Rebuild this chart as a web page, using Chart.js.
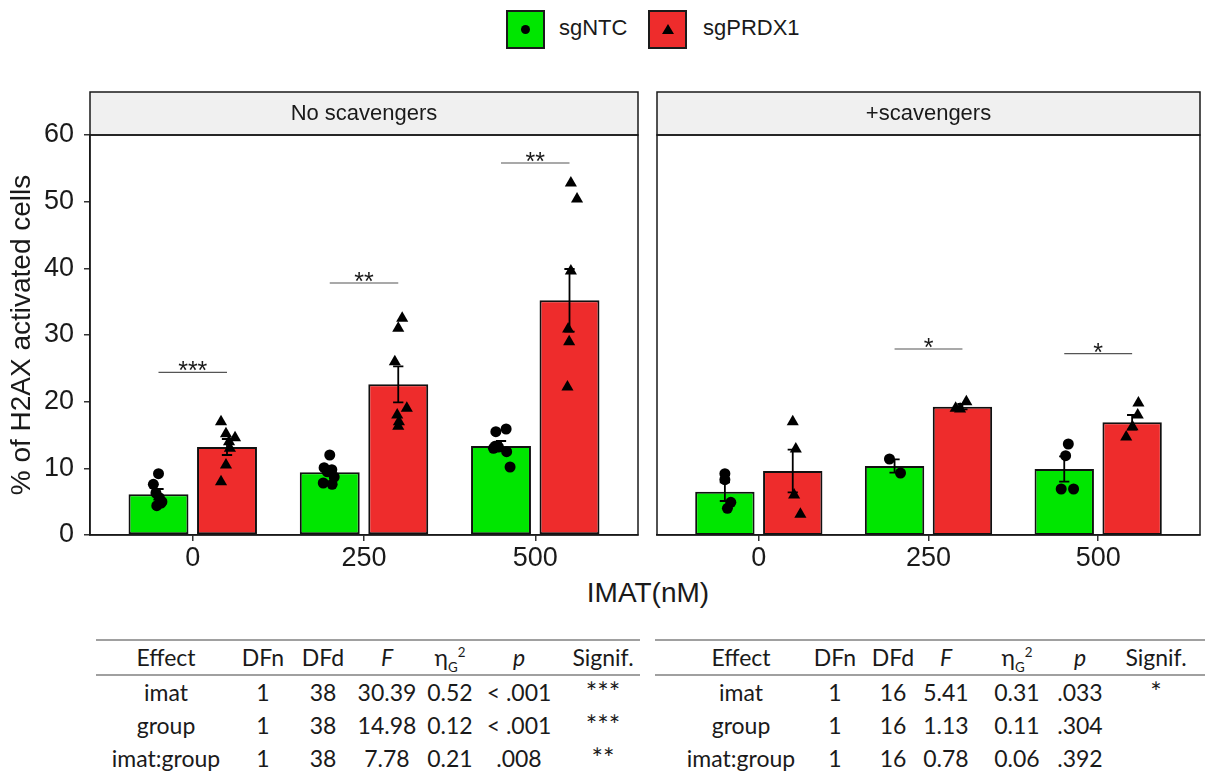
<!DOCTYPE html>
<html>
<head>
<meta charset="utf-8">
<title>H2AX activated cells</title>
<script src="https://cdn.jsdelivr.net/npm/chart.js@4.4.1/dist/chart.umd.min.js"></script>
<style>
  body { margin: 0; background: #fff; }
  #wrap { position: relative; width: 1207px; height: 774px; overflow: hidden;
          font-family: "Liberation Sans", Arial, sans-serif; color: #1a1a1a; }
  canvas { position: absolute; }
  .lgbox { position: absolute; width: 35px; height: 35px; border: 2px solid #1a1a1a; }
  .lgtext { position: absolute; top: 15px; font-size: 22px; line-height: 26px; }
  .dot { position: absolute; left: 13px; top: 13px; width: 9px; height: 9px; border-radius: 50%; background: #000; }
  .tri { position: absolute; left: 12px; top: 12px; width: 0; height: 0;
         border-left: 6px solid transparent; border-right: 6px solid transparent; border-bottom: 10px solid #000; }
  #xtitle { position: absolute; left: 548px; width: 200px; top: 577px; text-align: center; font-size: 28px; line-height: 32px; }
  .cell { position: absolute; width: 140px; text-align: center; font-family: Lato, "Open Sans", sans-serif;
          font-size: 23px; line-height: 30px; white-space: nowrap; }
  .cell.star { font-size: 27px; }
  .rule { position: absolute; height: 2px; background: #a0a0a0; }
  sub, sup { font-size: 58%; line-height: 0; }
</style>
</head>
<body>
<div id="wrap">
  <div class="lgbox" style="left:506px; top:10px; background:#00e600;"><div class="dot"></div></div>
  <div class="lgtext" style="left:559px;">sgNTC</div>
  <div class="lgbox" style="left:648px; top:10px; background:#ee2c2c;"><div class="tri"></div></div>
  <div class="lgtext" style="left:703px;">sgPRDX1</div>

  <canvas id="chartNo" width="645" height="480" style="left:0; top:90px;"></canvas>
  <canvas id="chartSc" width="557" height="480" style="left:650px; top:90px;"></canvas>
  <div id="xtitle">IMAT(nM)</div>
  <div id="tables"></div>
</div>
<script>
// ---- data ----
const doses = ['0', '250', '500'];
const panelNames = ['No scavengers', '+scavengers'];

// No scavengers panel
const ntcMeanNo = [6.1, 9.4, 13.35];
const ntcSeNo = [0.8, 0.5, 0.75];
const prdMeanNo = [13.2, 22.6, 35.2];
const prdSeNo = [1.2, 2.7, 4.7];
const ntcPtsNo = [
  [9.2, 7.6, 5.0, 4.4, 4.8, 5.6, 6.3],
  [12.0, 10.1, 9.8, 8.7, 7.8, 7.6, 9.5],
  [15.5, 15.9, 13.0, 13.2, 12.5, 10.2, 13.3]
];
const ntcJitNo = [
  [0.0, -0.03, 0.02, -0.01, 0.015, 0.005, -0.015],
  [0.0, -0.033, 0.012, 0.026, -0.038, 0.014, -0.015],
  [-0.03, 0.03, -0.044, -0.015, 0.033, 0.053, -0.035]
];
const prdPtsNo = [
  [17.0, 15.2, 14.6, 13.0, 10.5, 8.0, 14.0],
  [32.5, 31.0, 26.0, 19.0, 18.0, 16.3, 17.0],
  [52.8, 50.4, 39.6, 30.9, 29.0, 22.2]
];
const prdJitNo = [
  [-0.035, -0.006, 0.047, 0.017, -0.006, -0.035, 0.012],
  [0.023, 0.0, -0.02, 0.05, -0.006, 0.0, 0.004],
  [0.008, 0.044, 0.008, -0.008, -0.002, -0.012]
];
const sigNo = ['***', '**', '**'];
const sigYNo = [24.4, 37.8, 55.8];

// +scavengers panel
const ntcMeanSc = [6.5, 10.35, 9.9];
const ntcSeSc = [1.4, 1.0, 1.9];
const prdMeanSc = [9.6, 19.25, 16.9];
const prdSeSc = [3.2, 0.4, 1.1];
const ntcPtsSc = [
  [9.2, 8.3, 4.9, 4.0],
  [11.4, 9.3],
  [13.65, 11.9, 6.9, 6.9]
];
const ntcJitSc = [
  [0.0, 0.0, 0.035, 0.015],
  [-0.03, 0.035],
  [0.024, 0.008, -0.018, 0.055]
];
const prdPtsSc = [
  [17.0, 12.9, 6.0, 3.1],
  [19.0, 20.0, 18.9],
  [19.8, 18.0, 16.25, 14.7]
];
const prdJitSc = [
  [0.0, 0.018, 0.008, 0.045],
  [-0.04, 0.023, -0.014],
  [0.037, 0.033, 0.002, -0.035]
];
const sigSc = ['', '*', '*'];
const sigYSc = [null, 27.9, 27.2];

// ANOVA tables
const tableHead = ['Effect', 'DFn', 'DFd', '<i>F</i>', 'η<sub>G</sub><sup>2</sup>', '<i>p</i>', 'Signif.'];
const rowsNo = [
  ['imat', '1', '38', '30.39', '0.52', '< .001', '***'],
  ['group', '1', '38', '14.98', '0.12', '< .001', '***'],
  ['imat:group', '1', '38', '7.78', '0.21', '.008', '**']
];
const rowsSc = [
  ['imat', '1', '16', '5.41', '0.31', '.033', '*'],
  ['group', '1', '16', '1.13', '0.11', '.304', ''],
  ['imat:group', '1', '16', '0.78', '0.06', '.392', '']
];

const GREEN = '#00e600';
const RED = '#ee2c2c';
const SHIFT = 0.2;

Chart.defaults.font.family = '"Liberation Sans", Arial, sans-serif';
Chart.defaults.color = '#1a1a1a';

// strip, panel border, error bars and significance brackets
const panelPlugin = {
  id: 'panel',
  afterDraw(chart, args, o) {
    const { ctx, chartArea: a, scales: { x, y } } = chart;
    ctx.save();
    ctx.fillStyle = '#f0f0f0';
    ctx.fillRect(a.left, a.top - 43, a.right - a.left, 43);
    ctx.strokeStyle = '#1a1a1a';
    ctx.lineWidth = 1.5;
    ctx.strokeRect(a.left, a.top - 43, a.right - a.left, 43);
    ctx.fillStyle = '#1a1a1a';
    ctx.font = '22px "Liberation Sans", Arial, sans-serif';
    ctx.textAlign = 'center';
    ctx.textBaseline = 'middle';
    ctx.fillText(o.strip, (a.left + a.right) / 2, a.top - 21);
    ctx.strokeRect(a.left, a.top, a.right - a.left, a.bottom - a.top);

    // error bars
    ctx.strokeStyle = '#000';
    ctx.lineWidth = 1.8;
    o.errs.forEach(e => {
      e.mean.forEach((m, i) => {
        const cx = x.getPixelForValue(i + e.shift);
        const c0 = x.getPixelForValue(i + e.shift - 0.03);
        const c1 = x.getPixelForValue(i + e.shift + 0.03);
        const lo = y.getPixelForValue(m - e.se[i]);
        const hi = y.getPixelForValue(m + e.se[i]);
        ctx.beginPath();
        ctx.moveTo(cx, lo); ctx.lineTo(cx, hi);
        ctx.moveTo(c0, lo); ctx.lineTo(c1, lo);
        ctx.moveTo(c0, hi); ctx.lineTo(c1, hi);
        ctx.stroke();
      });
    });

    // significance brackets
    ctx.strokeStyle = '#555';
    ctx.lineWidth = 1.2;
    ctx.font = '25px "Liberation Sans", Arial, sans-serif';
    ctx.textBaseline = 'alphabetic';
    o.sig.forEach((lab, i) => {
      if (!lab) return;
      const yy = y.getPixelForValue(o.sigY[i]);
      const x0 = x.getPixelForValue(i - SHIFT);
      const x1 = x.getPixelForValue(i + SHIFT);
      ctx.beginPath();
      ctx.moveTo(x0, yy); ctx.lineTo(x1, yy);
      ctx.stroke();
      ctx.fillText(lab, (x0 + x1) / 2, yy + 7);
    });
    ctx.restore();
  }
};

function barData(means, shift) {
  return means.map((m, i) => ({ x: i + shift, y: m }));
}

function pointData(pts, jit, shift) {
  return pts.flatMap((vals, i) => vals.map((v, k) => ({ x: i + shift + jit[i][k], y: v })));
}

function makeChart(id, p) {
  return new Chart(document.getElementById(id), {
    type: 'bar',
    data: {
      datasets: [
        { type: 'scatter', data: pointData(p.ntcPts, p.ntcJit, -SHIFT), pointStyle: 'circle',
          pointRadius: 5.5, backgroundColor: '#000', borderWidth: 0 },
        { type: 'scatter', data: pointData(p.prdPts, p.prdJit, SHIFT), pointStyle: 'triangle',
          pointRadius: 7, backgroundColor: '#000', borderWidth: 0 },
        { label: 'sgNTC', data: barData(p.ntcMean, -SHIFT), backgroundColor: GREEN,
          borderColor: '#111', borderWidth: 2, borderSkipped: false, grouped: false,
          categoryPercentage: 1, barPercentage: 0.875 },
        { label: 'sgPRDX1', data: barData(p.prdMean, SHIFT), backgroundColor: RED,
          borderColor: '#111', borderWidth: 2, borderSkipped: false, grouped: false,
          categoryPercentage: 1, barPercentage: 0.875 }
      ]
    },
    options: {
      responsive: false,
      animation: false,
      devicePixelRatio: 1,
      layout: { padding: p.padding },
      plugins: {
        legend: { display: false },
        tooltip: { enabled: false },
        panel: {
          strip: p.strip,
          errs: [
            { mean: p.ntcMean, se: p.ntcSe, shift: -SHIFT },
            { mean: p.prdMean, se: p.prdSe, shift: SHIFT }
          ],
          sig: p.sig,
          sigY: p.sigY
        }
      },
      scales: {
        x: {
          type: 'linear', min: -0.6, max: 2.6, offset: false,
          afterBuildTicks: s => { s.ticks = doses.map((d, i) => ({ value: i })); },
          afterFit: s => { s.height = 35; },
          ticks: { callback: v => doses[v], font: { size: 27 }, color: '#1a1a1a', padding: 1, maxRotation: 0 },
          grid: { offset: false, drawOnChartArea: false, drawTicks: true, tickLength: 6, color: '#333', lineWidth: 1.5 },
          border: { display: true, color: '#1a1a1a', width: 1.5 }
        },
        y: {
          display: p.showY,
          min: 0, max: 60,
          afterFit: s => { s.width = p.showY ? 90 : 0; },
          ticks: { stepSize: 10, font: { size: 27 }, color: '#1a1a1a', padding: 10 },
          grid: { drawOnChartArea: false, drawTicks: true, tickLength: 6, color: '#333', lineWidth: 1.5 },
          border: { display: true, color: '#1a1a1a', width: 1.5 },
          title: { display: true, text: '% of H2AX activated cells', font: { size: 28 },
                   color: '#1a1a1a', padding: { top: 5, bottom: 0 } }
        }
      }
    },
    plugins: [panelPlugin]
  });
}

makeChart('chartNo', {
  strip: panelNames[0], showY: true, padding: { top: 45, right: 5, left: 0, bottom: 0 },
  ntcMean: ntcMeanNo, ntcSe: ntcSeNo, prdMean: prdMeanNo, prdSe: prdSeNo,
  ntcPts: ntcPtsNo, ntcJit: ntcJitNo, prdPts: prdPtsNo, prdJit: prdJitNo,
  sig: sigNo, sigY: sigYNo
});

makeChart('chartSc', {
  strip: panelNames[1], showY: false, padding: { top: 45, right: 2, left: 5, bottom: 0 },
  ntcMean: ntcMeanSc, ntcSe: ntcSeSc, prdMean: prdMeanSc, prdSe: prdSeSc,
  ntcPts: ntcPtsSc, ntcJit: ntcJitSc, prdPts: prdPtsSc, prdJit: prdJitSc,
  sig: sigSc, sigY: sigYSc
});

// ANOVA tables under each panel
function buildTable(head, rows, cols, left, right) {
  const host = document.getElementById('tables');
  const rowY = [642, 677, 710, 743];
  let html = `<div class="rule" style="left:${left}px; width:${right - left}px; top:639px;"></div>`;
  html += `<div class="rule" style="left:${left}px; width:${right - left}px; top:674px;"></div>`;
  [head, ...rows].forEach((r, ri) => {
    r.forEach((c, ci) => {
      const cls = ri > 0 && ci === r.length - 1 ? 'cell star' : 'cell';
      html += `<div class="${cls}" style="left:${cols[ci] - 70}px; top:${rowY[ri]}px;">${c}</div>`;
    });
  });
  host.insertAdjacentHTML('beforeend', html);
}
buildTable(tableHead, rowsNo, [166, 263, 323, 387, 450, 519, 603], 96, 640);
buildTable(tableHead, rowsSc, [741, 835, 893, 946, 1017, 1080, 1156], 655, 1205);
</script>
</body>
</html>
